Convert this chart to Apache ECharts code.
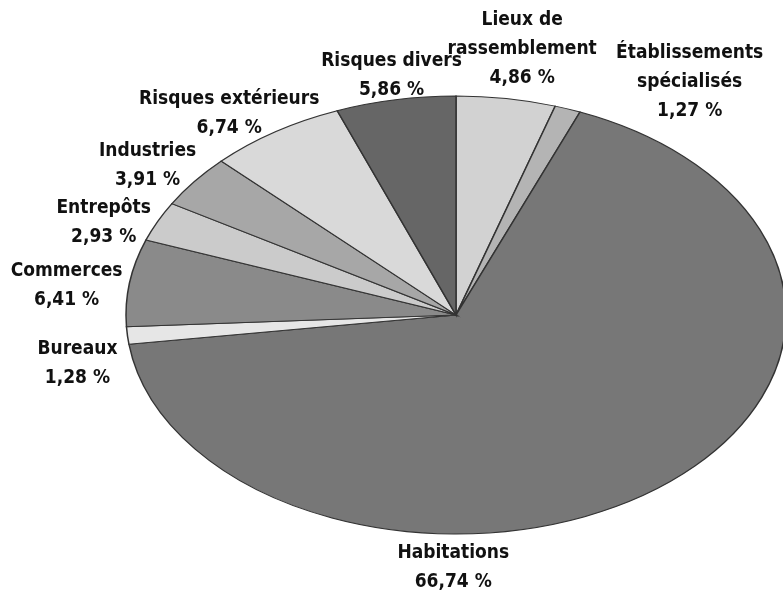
<!DOCTYPE html>
<html>
<head>
<meta charset="UTF-8">
<title>Répartition des sinistres</title>
<script src="https://cdn.jsdelivr.net/npm/echarts@6/dist/echarts.min.js"></script>
<style>
* { margin: 0; padding: 0; }
body { background: #fff; }
#pie { width: 783px; height: 600px; }
</style>
</head>
<body>
<div id="pie"></div>
<script>
// données (pourcentages), dans le sens horaire à partir du haut
var names = ['Lieux de\nrassemblement', 'Établissements\nspécialisés', 'Habitations', 'Bureaux',
             'Commerces', 'Entrepôts', 'Industries', 'Risques extérieurs', 'Risques divers'];
var values = [4.86, 1.27, 66.74, 1.28, 6.41, 2.93, 3.91, 6.74, 5.86];

// style : niveaux de gris de la trame
var shades = ['#d2d2d2', '#b4b4b4', '#777777', '#e6e6e6', '#8a8a8a', '#cbcbcb', '#a7a7a7', '#d9d9d9', '#666666'];
// décalage des étiquettes par rapport au milieu de l'arc
var labelNudge = [[16, -49], [122, -27], [-205, 80], [-50, 28], [-63, 3], [-54, 1], [-47, -16], [-46, -18], [-4, -24]];

// ellipse
var cx = 456, cy = 315, rx = 330, ry = 219;

var total = values.reduce(function (a, b) { return a + b; }, 0);
var starts = [];
var acc = 0;
values.forEach(function (v) { starts.push(acc); acc += v; });

function fmt(v) {
    return v.toFixed(2).replace('.', ',') + ' %';
}

function renderItem(params, api) {
    var i = params.dataIndex;
    var v = api.value(0);
    var a0 = -Math.PI / 2 + starts[i] / total * 2 * Math.PI;
    var a1 = a0 + v / total * 2 * Math.PI;
    var mid = (a0 + a1) / 2;
    var ax = cx + rx * Math.cos(mid);
    var ay = cy + ry * Math.sin(mid);
    return {
        type: 'group',
        children: [
            {
                type: 'sector',
                x: cx, y: cy,
                scaleX: rx / ry, scaleY: 1,
                shape: { cx: 0, cy: 0, r: ry, r0: 0, startAngle: a0, endAngle: a1, clockwise: true },
                style: { fill: shades[i], stroke: '#333', lineWidth: 1, strokeNoScale: true }
            },
            {
                type: 'text',
                x: ax + labelNudge[i][0],
                y: ay + labelNudge[i][1],
                style: {
                    text: names[i] + '\n' + fmt(v),
                    fill: '#111',
                    font: 'bold 19px "Liberation Sans Narrow", "DejaVu Sans Condensed", sans-serif',
                    align: 'center',
                    verticalAlign: 'middle',
                    lineHeight: 29
                }
            }
        ]
    };
}

var chart = echarts.init(document.getElementById('pie'), null, { renderer: 'canvas' });
chart.setOption({
    animation: false,
    backgroundColor: '#fff',
    series: [{
        type: 'custom',
        coordinateSystem: 'none',
        renderItem: renderItem,
        data: values.map(function (v) { return [v]; })
    }]
});
</script>
</body>
</html>
